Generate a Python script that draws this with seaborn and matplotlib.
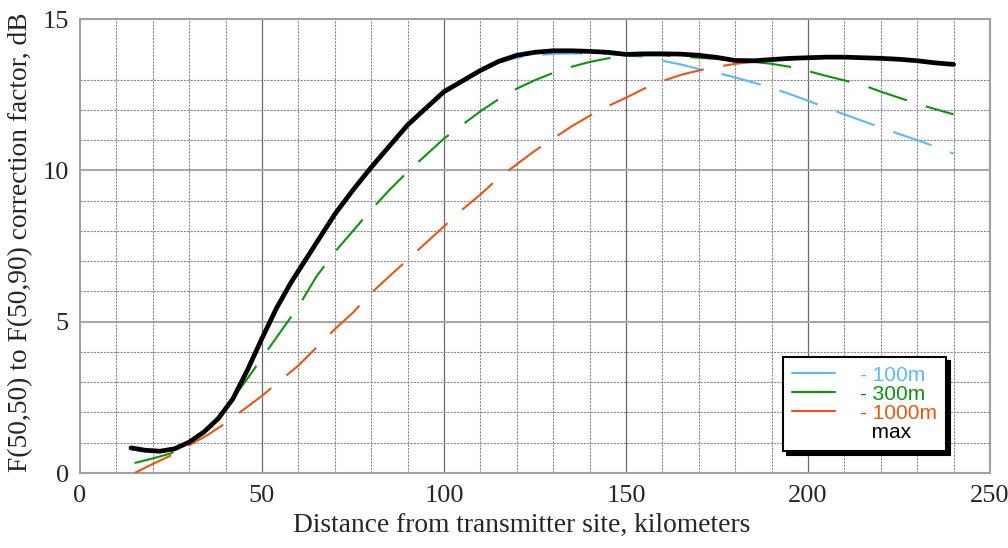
import matplotlib
matplotlib.use("Agg")
import matplotlib.pyplot as plt
from matplotlib.lines import Line2D
import seaborn as sns
import pandas as pd

# values (distance km -> correction dB)
dist_max = [14, 18, 22, 26, 30, 34, 38, 42, 46, 50, 54, 58, 62, 66, 70, 75, 80, 85, 90, 95,
            100, 105, 110, 115, 120, 125, 130, 135, 140, 145, 150, 155, 160, 165, 170, 175,
            180, 185, 190, 195, 200, 205, 210, 215, 220, 225, 230, 235, 240]
val_max = [0.83, 0.75, 0.72, 0.80, 1.02, 1.35, 1.80, 2.45, 3.40, 4.45, 5.45, 6.30, 7.05, 7.80,
           8.55, 9.35, 10.10, 10.80, 11.50, 12.05, 12.60, 12.95, 13.30, 13.60, 13.80, 13.90,
           13.95, 13.95, 13.93, 13.90, 13.83, 13.85, 13.85, 13.84, 13.80, 13.73, 13.63, 13.62,
           13.66, 13.70, 13.72, 13.74, 13.74, 13.72, 13.70, 13.67, 13.62, 13.55, 13.50]

dist_100 = dist_max
val_100 = [0.78, 0.72, 0.70, 0.78, 1.00, 1.33, 1.78, 2.42, 3.35, 4.40, 5.40, 6.25, 7.00, 7.75,
           8.50, 9.30, 10.05, 10.75, 11.45, 12.00, 12.55, 12.90, 13.25, 13.55, 13.72, 13.80,
           13.85, 13.86, 13.86, 13.84, 13.80, 13.75, 13.62, 13.50, 13.35, 13.22, 13.07, 12.90,
           12.72, 12.52, 12.30, 12.07, 11.85, 11.63, 11.42, 11.20, 11.00, 10.78, 10.55]

dist_300 = [15, 20, 25, 30, 35, 40, 45, 50, 55, 60, 65, 70, 75, 80, 85, 90, 95, 100, 105, 110,
            115, 120, 125, 130, 135, 140, 145, 150, 155, 160, 165, 170, 175, 180, 185, 190,
            195, 200, 205, 210, 215, 220, 225, 230, 235, 240]
val_300 = [0.33, 0.48, 0.65, 1.00, 1.45, 2.15, 2.95, 3.80, 4.65, 5.50, 6.50, 7.30, 8.00, 8.70,
           9.35, 9.95, 10.50, 11.05, 11.50, 11.95, 12.35, 12.70, 12.98, 13.22, 13.42, 13.58,
           13.70, 13.78, 13.80, 13.80, 13.76, 13.72, 13.68, 13.63, 13.58, 13.52, 13.42, 13.28,
           13.12, 12.97, 12.82, 12.60, 12.40, 12.20, 12.02, 11.85]

dist_1000 = [15, 20, 25, 30, 35, 40, 45, 50, 55, 60, 65, 70, 75, 80, 85, 90, 95, 100, 105, 110,
             115, 120, 125, 130, 135, 140, 145, 150, 155, 160, 165, 170, 175, 180, 185, 190,
             200, 210, 220, 230, 240]
val_1000 = [0.00, 0.30, 0.58, 0.92, 1.25, 1.65, 2.10, 2.55, 3.05, 3.55, 4.15, 4.75, 5.30, 5.95,
            6.50, 7.05, 7.60, 8.15, 8.70, 9.20, 9.75, 10.20, 10.65, 11.05, 11.45, 11.80, 12.12,
            12.40, 12.70, 12.95, 13.15, 13.30, 13.42, 13.52, 13.58, 13.63, 13.70, 13.72, 13.68,
            13.60, 13.50]

labels = ["- 100m", "- 300m", "- 1000m", "  max"]
colors = ["#5cb8ff", "#0a960a", "#ee5511", "black"]

x_major = [0, 50, 100, 150, 200, 250]
y_major = [0, 5, 10, 15]
x_minor = [v for v in range(0, 251, 10) if v % 50]
y_minor = [1, 2, 3, 4, 6, 7, 8, 9, 11, 12, 13]

sns.set_style("white")
plt.rcParams["font.family"] = ["Liberation Serif", "DejaVu Serif"]

fig = plt.figure(figsize=(10.08, 5.48), dpi=100)
ax = fig.add_axes([80 / 1008, 75 / 548, 910 / 1008, 454 / 548])

dash = (0, (19.5, 9.5))
series = [(dist_100, val_100), (dist_300, val_300), (dist_1000, val_1000)]
for (d, v), c in zip(series, colors[:3]):
    df = pd.DataFrame({"d": d, "v": v})
    sns.lineplot(data=df, x="d", y="v", ax=ax, color=c, lw=1.5,
                 linestyle=dash, sort=False, zorder=3)
df_max = pd.DataFrame({"d": dist_max, "v": val_max})
sns.lineplot(data=df_max, x="d", y="v", ax=ax, color="black", lw=3.4,
             sort=False, zorder=4)

ax.set_xlim(0, 250)
ax.set_ylim(0, 15)
ax.set_xticks(x_major)
ax.set_yticks(y_major)
ax.set_xticks(x_minor, minor=True)
ax.set_yticks(y_minor, minor=True)
ax.grid(False)
for xv in x_major[1:-1]:
    ax.axvline(xv, color="#6a6a6a", lw=0.9, zorder=1)
for yv in y_major[1:-1]:
    ax.axhline(yv, color="#a8a8a8", lw=1.5, zorder=1)
for xv in x_minor:
    ax.axvline(xv, color="#8a8a8a", lw=0.8, ls=(0, (2, 1)), zorder=1)
for yv in y_minor:
    ax.axhline(yv, color="#8a8a8a", lw=0.8, ls=(0, (2, 1)), zorder=1)

for s in ax.spines.values():
    s.set_color("#a0a0a0")
    s.set_linewidth(1.5)
ax.tick_params(which="both", length=0, labelsize=19)
ax.tick_params(axis="x", pad=9)
ax.tick_params(axis="y", pad=8)

ax.set_xlabel("Distance from transmitter site, kilometers", fontsize=19.8)
ax.set_ylabel("F(50,50) to F(50,90) correction factor, dB", fontsize=19.8)
ax.xaxis.set_label_coords(0.485, -0.088)
ax.yaxis.set_label_coords(-0.052, 0.509)

handles = [Line2D([], [], color=c, lw=1.5) for c in colors[:3]]
handles.append(Line2D([], [], color="none"))
leg = ax.legend(handles, labels, loc="upper left", bbox_to_anchor=(0.7725, 0.2555),
                borderaxespad=0, fancybox=False, framealpha=1, edgecolor="black",
                shadow={"ox": 3, "oy": -3, "color": "black", "alpha": 1},
                prop={"family": ["Liberation Sans"], "size": 15},
                labelcolor=colors, handlelength=2.1, handletextpad=1.2,
                labelspacing=0.0, borderpad=0.42)
leg.get_frame().set_linewidth(1.5)
leg.set_zorder(10)

fig.savefig("out.png", dpi=100)
